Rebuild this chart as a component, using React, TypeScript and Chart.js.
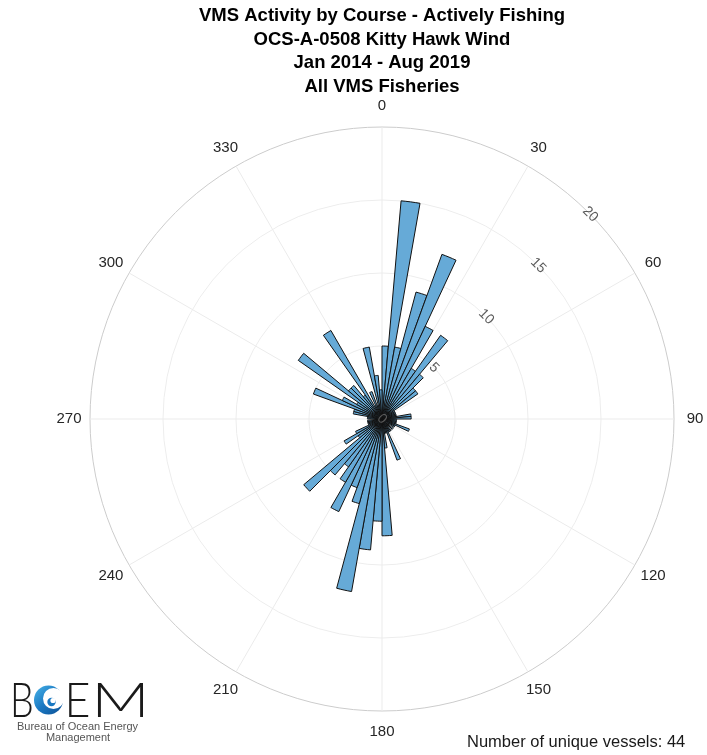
import { useEffect, useRef } from 'react';
import { Chart, registerables } from 'chart.js';

Chart.register(...registerables);

// Course histogram: counts per 5° bin, starting at 0° (north) and running clockwise.
const BIN_WIDTH_DEG = 5;
const courseCounts = [
  5, 15, 5, 9, 12, 7, 4, 7, 4, 3, 3, 1, // 0–60°
  1, 1, 1, 1, 2, 2, 1, 1, 1, 1, 2, 1, // 60–120°
  1, 0, 1, 0, 1, 1, 1, 3, 1, 1, 2, 8, // 120–180°
  7, 9, 12, 6, 5, 7, 5, 4, 5, 7, 2, 3, // 180–240°
  2, 1, 1, 1, 1, 0, 1, 1, 2, 2, 5, 3, // 240–300°
  2, 7, 3, 3, 2, 7, 1, 2, 1, 5, 3, 2, // 300–360°
];
const courseBins = courseCounts.map(
  (_, i) => `${i * BIN_WIDTH_DEG}–${(i + 1) * BIN_WIDTH_DEG}°`
);

const thetaTicks = [0, 30, 60, 90, 120, 150, 180, 210, 240, 270, 300, 330];
const rTicks = [0, 5, 10, 15, 20];
const R_MAX = 20;
const R_LABEL_ANGLE = 45.5;

const titleLines = [
  'VMS Activity by Course - Actively Fishing',
  'OCS-A-0508 Kitty Hawk Wind',
  'Jan 2014 - Aug 2019',
  'All VMS Fisheries',
];
const uniqueVessels = 44;

const FONT = '"Liberation Sans", Arial, Helvetica, sans-serif';

// Angle labels around the rim and radial labels along the 45° direction.
const polarLabels = {
  id: 'polarLabels',
  afterDatasetsDraw(chart: any) {
    const scale = chart.scales.r;
    const ctx = chart.ctx as CanvasRenderingContext2D;
    ctx.save();
    ctx.textAlign = 'center';
    ctx.textBaseline = 'middle';

    ctx.font = `15px ${FONT}`;
    ctx.fillStyle = '#262626';
    thetaTicks.forEach((deg) => {
      const p = scale.getPointPosition(deg / BIN_WIDTH_DEG, scale.drawingArea + 21);
      ctx.fillText(String(deg), p.x, p.y);
    });

    ctx.font = `14px ${FONT}`;
    ctx.fillStyle = '#5a5a5a';
    rTicks.forEach((v) => {
      const d = scale.getDistanceFromCenterForValue(v);
      const p = scale.getPointPosition(R_LABEL_ANGLE / BIN_WIDTH_DEG, d);
      ctx.save();
      ctx.translate(p.x, p.y);
      ctx.rotate(Math.PI / 4);
      ctx.fillText(String(v), 0, 0);
      ctx.restore();
    });
    ctx.restore();
  },
};

// Draws one glyph stretched horizontally between x0 and x1.
function fittedGlyph(ctx: CanvasRenderingContext2D, ch: string, x0: number, x1: number, baseline: number) {
  const m = ctx.measureText(ch);
  const w = m.actualBoundingBoxLeft + m.actualBoundingBoxRight;
  const sx = (x1 - x0) / w;
  ctx.save();
  ctx.translate(x0 + m.actualBoundingBoxLeft * sx, baseline);
  ctx.scale(sx, 1);
  ctx.fillText(ch, 0, 0);
  ctx.restore();
}

// Agency mark in the lower left and the vessel count in the lower right.
const footer = {
  id: 'footer',
  afterDraw(chart: any) {
    const ctx = chart.ctx as CanvasRenderingContext2D;
    ctx.save();
    ctx.textAlign = 'left';
    ctx.textBaseline = 'alphabetic';
    ctx.fillStyle = '#1a1a1a';
    ctx.font = `300 47px Lato, ${FONT}`;
    const base = 716.5;
    fittedGlyph(ctx, 'B', 13.3, 31.7, base);
    fittedGlyph(ctx, 'E', 68.3, 88.3, base);
    fittedGlyph(ctx, 'M', 96.7, 143.3, base);

    // wave-shaped O
    const cx = 48.5;
    const cy = 700;
    const r = 14.5;
    const g = ctx.createLinearGradient(cx - r, cy - r, cx + r, cy + r);
    g.addColorStop(0, '#49b4e8');
    g.addColorStop(0.5, '#1a78c2');
    g.addColorStop(1, '#0d4f93');
    ctx.beginPath();
    ctx.arc(cx, cy, r, 0, Math.PI * 2);
    ctx.fillStyle = g;
    ctx.fill();
    ctx.beginPath();
    ctx.arc(cx + 5, cy - 1.5, 10.5, 0, Math.PI * 2);
    ctx.fillStyle = '#ffffff';
    ctx.fill();
    ctx.beginPath();
    ctx.arc(cx + 3, cy + 2, 4.2, 0, Math.PI * 2);
    ctx.fillStyle = '#1a78c2';
    ctx.fill();
    ctx.beginPath();
    ctx.arc(cx + 4.5, cy + 0.5, 2.6, 0, Math.PI * 2);
    ctx.fillStyle = '#ffffff';
    ctx.fill();

    ctx.textAlign = 'center';
    ctx.fillStyle = '#555555';
    ctx.font = `11px ${FONT}`;
    ctx.fillText('Bureau of Ocean Energy', 77.5, 730);
    ctx.fillText('Management', 78, 740.5);

    ctx.textAlign = 'left';
    ctx.textBaseline = 'middle';
    ctx.fillStyle = '#1a1a1a';
    ctx.font = `16.5px ${FONT}`;
    ctx.fillText(`Number of unique vessels: ${uniqueVessels}`, 467, 742.5);
    ctx.restore();
  },
};

export default function App() {
  const canvasRef = useRef<HTMLCanvasElement | null>(null);

  useEffect(() => {
    if (!canvasRef.current) return;
    const chart = new Chart(canvasRef.current, {
      type: 'polarArea',
      data: {
        labels: courseBins,
        datasets: [
          {
            label: 'Activity',
            data: courseCounts,
            backgroundColor: '#66aad7',
            borderColor: '#111111',
            borderWidth: 1,
          },
        ],
      },
      options: {
        animation: false,
        responsive: true,
        maintainAspectRatio: false,
        layout: { padding: { left: 90, right: 33, top: 0, bottom: 43 } },
        plugins: {
          legend: { display: false },
          tooltip: { enabled: false },
          title: {
            display: true,
            text: titleLines,
            color: '#000000',
            font: { family: FONT, size: 18.5, weight: 'bold', lineHeight: 1.27 },
            padding: { top: 4.25, bottom: 29.75 },
          },
        },
        scales: {
          r: {
            min: 0,
            max: R_MAX,
            startAngle: 0,
            ticks: { display: false, stepSize: 5 },
            grid: {
              circular: true,
              color: (c: any) => (c.tick && c.tick.value === R_MAX ? '#cccccc' : '#ededed'),
              lineWidth: 1,
            },
            angleLines: {
              display: true,
              color: '#ebebeb',
              lineWidth: (c: any) => (c.index % (30 / BIN_WIDTH_DEG) === 0 ? 1 : 0),
            },
            pointLabels: { display: false },
          },
        },
      },
      plugins: [polarLabels, footer],
    });
    return () => chart.destroy();
  }, []);

  return (
    <div style={{ position: 'absolute', left: 0, top: 0, width: 707, height: 755, background: '#ffffff' }}>
      <canvas ref={canvasRef} />
    </div>
  );
}
